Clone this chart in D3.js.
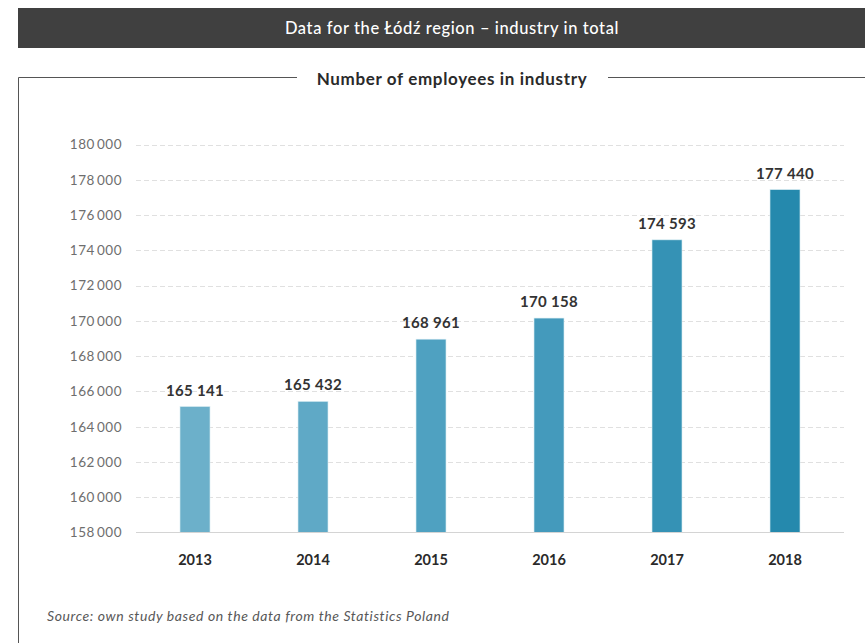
<!DOCTYPE html>
<html>
<head>
<meta charset="utf-8">
<script src="https://cdn.jsdelivr.net/npm/d3@7"></script>
<style>
  html, body { margin: 0; padding: 0; background: #fff; }
  svg { display: block; }
  text { font-family: Lato, "Open Sans", sans-serif; }
</style>
</head>
<body>
<svg id="chart" width="865" height="643"></svg>
<script>
// Employees in industry, Łódź region
const years = ["2013", "2014", "2015", "2016", "2017", "2018"];
const employees = [165141, 165432, 168961, 170158, 174593, 177440];
const barColors = ["#6cb0ca", "#5fa9c6", "#4fa1c1", "#449abc", "#3592b5", "#2589ad"];
const yTicks = [158000, 160000, 162000, 164000, 166000, 168000, 170000, 172000, 174000, 176000, 178000, 180000];

const headerTitle = "Data for the Łódź region – industry in total";
const chartTitle = "Number of employees in industry";
const sourceNote = "Source: own study based on the data from the Statistics Poland";

const svg = d3.select("#chart");

// Thousands separated by a space
const fmt = v => d3.format(",")(v).replace(/,/g, "\u2009");
const fmtLabel = v => d3.format(",")(v).replace(/,/g, " ");

// Header band
svg.append("rect")
  .attr("x", 18).attr("y", 8).attr("width", 847).attr("height", 40)
  .attr("fill", "#404040");
svg.append("text")
  .attr("x", 452).attr("y", 34)
  .attr("text-anchor", "middle")
  .attr("fill", "#fff")
  .attr("font-size", 16.5)
  .attr("letter-spacing", 0.6)
  .attr("font-weight", 500)
  .text(headerTitle);

// Frame around the chart with a gap for its title
const frame = svg.append("g").attr("stroke", "#555").attr("stroke-width", 1).attr("fill", "none");
frame.append("path").attr("d", "M297,77.5 H18.5 V643");
frame.append("path").attr("d", "M608,77.5 H865");

svg.append("text")
  .attr("x", 452).attr("y", 84.5)
  .attr("text-anchor", "middle")
  .attr("fill", "#2a2a2a")
  .attr("font-size", 17)
  .attr("letter-spacing", 0.65)
  .attr("font-weight", 700)
  .text(chartTitle);

// Scales
const x = d3.scaleBand()
  .domain(years)
  .range([136, 844])
  .paddingInner(0.746)
  .paddingOuter(0.373);

const y = d3.scaleLinear()
  .domain([158000, 180000])
  .range([532.5, 144.5]);

// Y axis labels
const yAxis = d3.axisLeft(y)
  .tickValues(yTicks)
  .tickFormat(fmt)
  .tickSize(0)
  .tickPadding(14);

const yG = svg.append("g").attr("transform", "translate(136,0)").call(yAxis);
yG.select(".domain").remove();
yG.selectAll(".tick text")
  .attr("fill", "#6e6e6e")
  .attr("font-size", 13.5)
  .attr("letter-spacing", 0.5)
  .attr("font-weight", 400)
  .attr("font-family", "Lato, sans-serif");

// Dashed gridlines
const grid = svg.append("g");
grid.selectAll("line")
  .data(yTicks.filter(t => t !== 158000))
  .join("line")
  .attr("x1", 136).attr("x2", 844)
  .attr("y1", d => Math.round(y(d)) + 0.5)
  .attr("y2", d => Math.round(y(d)) + 0.5)
  .attr("stroke", "#e0e0e0")
  .attr("stroke-dasharray", "5,3");

// Bars
svg.append("g").selectAll("rect")
  .data(years.map((yr, i) => ({ yr, v: employees[i], c: barColors[i] })))
  .join("rect")
  .attr("x", d => x(d.yr))
  .attr("width", x.bandwidth())
  .attr("y", d => y(d.v))
  .attr("height", d => y(158000) - y(d.v))
  .attr("fill", d => d.c)
  .attr("stroke", "#d6ebf2")
  .attr("stroke-width", 0.6);

// Baseline
svg.append("line")
  .attr("x1", 136).attr("x2", 844)
  .attr("y1", 532.5).attr("y2", 532.5)
  .attr("stroke", "#d4d4d4")
  .attr("stroke-width", 1);

// Value labels
svg.append("g").selectAll("text")
  .data(years.map((yr, i) => ({ yr, v: employees[i] })))
  .join("text")
  .attr("x", d => x(d.yr) + x.bandwidth() / 2)
  .attr("y", d => y(d.v) - 11)
  .attr("text-anchor", "middle")
  .attr("fill", "#333")
  .attr("font-size", 15)
  .attr("letter-spacing", 0.3)
  .attr("font-weight", 700)
  .text(d => fmtLabel(d.v));

// Year labels
const xAxis = d3.axisBottom(x).tickSize(0).tickPadding(0);
const xG = svg.append("g").attr("transform", "translate(0,565)").call(xAxis);
xG.select(".domain").remove();
xG.selectAll(".tick text")
  .attr("dy", 0)
  .attr("fill", "#2a2a2a")
  .attr("font-size", 14.5)
  .attr("font-weight", 700)
  .attr("font-family", "Lato, sans-serif");

// Source note
svg.append("text")
  .attr("x", 47).attr("y", 621)
  .attr("fill", "#585858")
  .attr("font-size", 14)
  .attr("letter-spacing", 0.6)
  .attr("font-style", "italic")
  .attr("font-weight", 400)
  .text(sourceNote);
</script>
</body>
</html>
